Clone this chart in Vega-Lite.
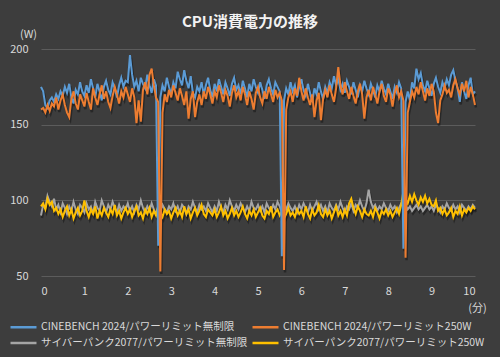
{
"$schema": "https://vega.github.io/schema/vega-lite/v6.json",
"width": 434, "height": 227,
"autosize": {"type": "none"},
"padding": {"left": 41, "top": 49, "right": 25, "bottom": 81},
"background": "#3d3d3d",
"config": {"view": {"stroke": null}, "font": "Noto Sans CJK JP"},
"title": {"text": "CPU消費電力の推移", "color": "#f2f2f2", "fontSize": 15, "fontWeight": "bold", "anchor": "middle", "dx": -8, "dy": 2, "offset": 0, "font": "Noto Sans CJK JP"},
"datasets": {
"names": [
{"k": "a", "name": "CINEBENCH 2024/パワーリミット無制限"},
{"k": "b", "name": "CINEBENCH 2024/パワーリミット250W"},
{"k": "c", "name": "サイバーパンク2077/パワーリミット無制限"},
{"k": "d", "name": "サイバーパンク2077/パワーリミット250W"}
],
"w": [
{"t":0,"a":175,"b":160,"c":90,"d":96},
{"t":0.05,"a":172,"b":161,"c":97,"d":98},
{"t":0.1,"a":163,"b":158,"c":95,"d":94},
{"t":0.15,"a":161,"b":163,"c":103,"d":101},
{"t":0.2,"a":166,"b":159,"c":99,"d":97},
{"t":0.25,"a":168,"b":164,"c":96,"d":99},
{"t":0.3,"a":165,"b":162,"c":101,"d":93},
{"t":0.35,"a":170,"b":168,"c":94,"d":95},
{"t":0.4,"a":167,"b":160,"c":97,"d":91},
{"t":0.45,"a":172,"b":166,"c":92,"d":94},
{"t":0.5,"a":169,"b":170,"c":98,"d":89},
{"t":0.55,"a":175,"b":163,"c":95,"d":93},
{"t":0.6,"a":171,"b":158,"c":91,"d":96},
{"t":0.65,"a":177,"b":155,"c":96,"d":90},
{"t":0.7,"a":168,"b":167,"c":93,"d":94},
{"t":0.75,"a":164,"b":172,"c":99,"d":88},
{"t":0.8,"a":173,"b":164,"c":94,"d":92},
{"t":0.85,"a":170,"b":160,"c":91,"d":95},
{"t":0.9,"a":178,"b":170,"c":97,"d":90},
{"t":0.95,"a":172,"b":166,"c":95,"d":93},
{"t":1.0,"a":169,"b":162,"c":92,"d":100},
{"t":1.05,"a":176,"b":171,"c":98,"d":93},
{"t":1.1,"a":171,"b":165,"c":94,"d":89},
{"t":1.15,"a":180,"b":160,"c":96,"d":94},
{"t":1.2,"a":174,"b":174,"c":91,"d":91},
{"t":1.25,"a":168,"b":168,"c":99,"d":96},
{"t":1.3,"a":177,"b":163,"c":95,"d":88},
{"t":1.35,"a":172,"b":170,"c":93,"d":93},
{"t":1.4,"a":166,"b":176,"c":100,"d":90},
{"t":1.45,"a":175,"b":167,"c":96,"d":95},
{"t":1.5,"a":179,"b":172,"c":92,"d":92},
{"t":1.55,"a":173,"b":165,"c":97,"d":89},
{"t":1.6,"a":170,"b":161,"c":94,"d":94},
{"t":1.65,"a":178,"b":169,"c":99,"d":91},
{"t":1.7,"a":174,"b":175,"c":95,"d":97},
{"t":1.75,"a":168,"b":170,"c":92,"d":90},
{"t":1.8,"a":176,"b":164,"c":97,"d":93},
{"t":1.85,"a":181,"b":172,"c":93,"d":88},
{"t":1.9,"a":175,"b":168,"c":96,"d":92},
{"t":1.95,"a":179,"b":175,"c":94,"d":95},
{"t":2.0,"a":178,"b":170,"c":98,"d":91},
{"t":2.05,"a":196,"b":165,"c":93,"d":94},
{"t":2.1,"a":183,"b":174,"c":96,"d":89},
{"t":2.15,"a":175,"b":168,"c":92,"d":93},
{"t":2.2,"a":179,"b":151,"c":97,"d":96},
{"t":2.25,"a":172,"b":166,"c":94,"d":90},
{"t":2.3,"a":181,"b":152,"c":100,"d":92},
{"t":2.35,"a":177,"b":173,"c":95,"d":88},
{"t":2.4,"a":174,"b":178,"c":92,"d":94},
{"t":2.45,"a":183,"b":170,"c":96,"d":91},
{"t":2.5,"a":176,"b":183,"c":93,"d":95},
{"t":2.55,"a":171,"b":187,"c":98,"d":89},
{"t":2.6,"a":180,"b":176,"c":94,"d":93},
{"t":2.65,"a":176,"b":168,"c":91,"d":90},
{"t":2.7,"a":70,"b":165,"c":96,"d":96},
{"t":2.75,"a":168,"b":53,"c":93,"d":92},
{"t":2.8,"a":176,"b":158,"c":97,"d":89},
{"t":2.85,"a":172,"b":170,"c":94,"d":94},
{"t":2.9,"a":181,"b":165,"c":92,"d":91},
{"t":2.95,"a":175,"b":173,"c":96,"d":93},
{"t":3.0,"a":170,"b":168,"c":94,"d":88},
{"t":3.05,"a":178,"b":176,"c":98,"d":92},
{"t":3.1,"a":174,"b":171,"c":93,"d":95},
{"t":3.15,"a":185,"b":166,"c":96,"d":90},
{"t":3.2,"a":180,"b":174,"c":92,"d":93},
{"t":3.25,"a":176,"b":169,"c":97,"d":89},
{"t":3.3,"a":186,"b":163,"c":95,"d":96},
{"t":3.35,"a":179,"b":172,"c":91,"d":91},
{"t":3.4,"a":174,"b":154,"c":96,"d":94},
{"t":3.45,"a":182,"b":167,"c":94,"d":88},
{"t":3.5,"a":171,"b":172,"c":99,"d":92},
{"t":3.55,"a":168,"b":155,"c":95,"d":95},
{"t":3.6,"a":175,"b":165,"c":92,"d":90},
{"t":3.65,"a":172,"b":170,"c":97,"d":93},
{"t":3.7,"a":178,"b":163,"c":94,"d":97},
{"t":3.75,"a":170,"b":172,"c":96,"d":91},
{"t":3.8,"a":176,"b":167,"c":93,"d":89},
{"t":3.85,"a":181,"b":175,"c":98,"d":94},
{"t":3.9,"a":173,"b":170,"c":95,"d":92},
{"t":3.95,"a":168,"b":164,"c":92,"d":90},
{"t":4.0,"a":177,"b":172,"c":96,"d":94},
{"t":4.05,"a":172,"b":168,"c":93,"d":89},
{"t":4.1,"a":180,"b":176,"c":99,"d":92},
{"t":4.15,"a":175,"b":171,"c":95,"d":96},
{"t":4.2,"a":170,"b":165,"c":92,"d":90},
{"t":4.25,"a":178,"b":173,"c":97,"d":93},
{"t":4.3,"a":174,"b":169,"c":94,"d":88},
{"t":4.35,"a":169,"b":162,"c":100,"d":91},
{"t":4.4,"a":177,"b":171,"c":96,"d":95},
{"t":4.45,"a":181,"b":176,"c":93,"d":90},
{"t":4.5,"a":173,"b":168,"c":97,"d":93},
{"t":4.55,"a":176,"b":172,"c":94,"d":89},
{"t":4.6,"a":170,"b":166,"c":98,"d":92},
{"t":4.65,"a":179,"b":175,"c":95,"d":96},
{"t":4.7,"a":174,"b":170,"c":92,"d":91},
{"t":4.75,"a":168,"b":163,"c":96,"d":88},
{"t":4.8,"a":177,"b":172,"c":93,"d":93},
{"t":4.85,"a":172,"b":167,"c":99,"d":90},
{"t":4.9,"a":180,"b":160,"c":95,"d":94},
{"t":4.95,"a":175,"b":171,"c":94,"d":89},
{"t":5.0,"a":171,"b":175,"c":97,"d":92},
{"t":5.05,"a":178,"b":168,"c":93,"d":95},
{"t":5.1,"a":173,"b":164,"c":96,"d":90},
{"t":5.15,"a":167,"b":172,"c":92,"d":88},
{"t":5.2,"a":176,"b":167,"c":98,"d":93},
{"t":5.25,"a":180,"b":175,"c":95,"d":91},
{"t":5.3,"a":174,"b":170,"c":93,"d":96},
{"t":5.35,"a":170,"b":165,"c":97,"d":89},
{"t":5.4,"a":178,"b":173,"c":94,"d":92},
{"t":5.45,"a":175,"b":168,"c":99,"d":94},
{"t":5.5,"a":172,"b":171,"c":96,"d":90},
{"t":5.55,"a":63,"b":166,"c":92,"d":93},
{"t":5.6,"a":166,"b":54,"c":97,"d":88},
{"t":5.65,"a":174,"b":160,"c":94,"d":91},
{"t":5.7,"a":170,"b":168,"c":98,"d":95},
{"t":5.75,"a":178,"b":172,"c":95,"d":90},
{"t":5.8,"a":172,"b":165,"c":93,"d":92},
{"t":5.85,"a":176,"b":174,"c":96,"d":89},
{"t":5.9,"a":168,"b":169,"c":92,"d":94},
{"t":5.95,"a":175,"b":181,"c":97,"d":91},
{"t":6.0,"a":180,"b":172,"c":94,"d":93},
{"t":6.05,"a":173,"b":166,"c":98,"d":89},
{"t":6.1,"a":169,"b":174,"c":95,"d":96},
{"t":6.15,"a":177,"b":168,"c":92,"d":91},
{"t":6.2,"a":171,"b":163,"c":97,"d":88},
{"t":6.25,"a":165,"b":170,"c":93,"d":94},
{"t":6.3,"a":174,"b":155,"c":96,"d":90},
{"t":6.35,"a":170,"b":166,"c":99,"d":92},
{"t":6.4,"a":178,"b":171,"c":94,"d":97},
{"t":6.45,"a":172,"b":153,"c":97,"d":91},
{"t":6.5,"a":167,"b":167,"c":93,"d":89},
{"t":6.55,"a":175,"b":173,"c":96,"d":94},
{"t":6.6,"a":171,"b":168,"c":92,"d":90},
{"t":6.65,"a":178,"b":176,"c":98,"d":93},
{"t":6.7,"a":174,"b":170,"c":95,"d":88},
{"t":6.75,"a":182,"b":165,"c":93,"d":92},
{"t":6.8,"a":176,"b":174,"c":97,"d":96},
{"t":6.85,"a":180,"b":188,"c":94,"d":90},
{"t":6.9,"a":173,"b":176,"c":99,"d":93},
{"t":6.95,"a":177,"b":170,"c":95,"d":89},
{"t":7.0,"a":171,"b":178,"c":92,"d":94},
{"t":7.05,"a":179,"b":172,"c":96,"d":90},
{"t":7.1,"a":175,"b":167,"c":94,"d":98},
{"t":7.15,"a":170,"b":175,"c":98,"d":101},
{"t":7.2,"a":178,"b":169,"c":93,"d":95},
{"t":7.25,"a":173,"b":164,"c":97,"d":91},
{"t":7.3,"a":168,"b":172,"c":95,"d":96},
{"t":7.35,"a":176,"b":177,"c":100,"d":93},
{"t":7.4,"a":172,"b":170,"c":96,"d":89},
{"t":7.45,"a":179,"b":154,"c":93,"d":94},
{"t":7.5,"a":174,"b":168,"c":98,"d":91},
{"t":7.55,"a":170,"b":173,"c":107,"d":90},
{"t":7.6,"a":177,"b":166,"c":99,"d":93},
{"t":7.65,"a":173,"b":175,"c":95,"d":89},
{"t":7.7,"a":168,"b":170,"c":97,"d":95},
{"t":7.75,"a":176,"b":164,"c":93,"d":92},
{"t":7.8,"a":172,"b":172,"c":96,"d":88},
{"t":7.85,"a":179,"b":177,"c":94,"d":93},
{"t":7.9,"a":174,"b":169,"c":98,"d":91},
{"t":7.95,"a":170,"b":165,"c":95,"d":94},
{"t":8.0,"a":177,"b":174,"c":93,"d":90},
{"t":8.05,"a":172,"b":170,"c":97,"d":93},
{"t":8.1,"a":167,"b":162,"c":94,"d":89},
{"t":8.15,"a":175,"b":171,"c":96,"d":92},
{"t":8.2,"a":171,"b":176,"c":92,"d":95},
{"t":8.25,"a":178,"b":168,"c":95,"d":91},
{"t":8.3,"a":174,"b":172,"c":98,"d":97},
{"t":8.35,"a":68,"b":166,"c":101,"d":106},
{"t":8.4,"a":165,"b":62,"c":97,"d":101},
{"t":8.45,"a":172,"b":158,"c":94,"d":98},
{"t":8.5,"a":166,"b":165,"c":96,"d":103},
{"t":8.55,"a":178,"b":172,"c":93,"d":99},
{"t":8.6,"a":174,"b":168,"c":95,"d":104},
{"t":8.65,"a":187,"b":175,"c":97,"d":100},
{"t":8.7,"a":180,"b":170,"c":94,"d":97},
{"t":8.75,"a":184,"b":178,"c":96,"d":102},
{"t":8.8,"a":176,"b":172,"c":93,"d":99},
{"t":8.85,"a":172,"b":166,"c":95,"d":103},
{"t":8.9,"a":179,"b":174,"c":97,"d":98},
{"t":8.95,"a":174,"b":169,"c":94,"d":101},
{"t":9.0,"a":169,"b":177,"c":96,"d":97},
{"t":9.05,"a":177,"b":172,"c":93,"d":96},
{"t":9.1,"a":181,"b":158,"c":97,"d":100},
{"t":9.15,"a":175,"b":151,"c":95,"d":93},
{"t":9.2,"a":171,"b":166,"c":92,"d":95},
{"t":9.25,"a":178,"b":170,"c":96,"d":91},
{"t":9.3,"a":174,"b":176,"c":94,"d":94},
{"t":9.35,"a":180,"b":171,"c":98,"d":90},
{"t":9.4,"a":176,"b":173,"c":95,"d":92},
{"t":9.45,"a":183,"b":168,"c":93,"d":95},
{"t":9.5,"a":186,"b":176,"c":97,"d":89},
{"t":9.55,"a":179,"b":180,"c":94,"d":93},
{"t":9.6,"a":174,"b":174,"c":96,"d":91},
{"t":9.65,"a":165,"b":170,"c":92,"d":96},
{"t":9.7,"a":178,"b":177,"c":97,"d":90},
{"t":9.75,"a":172,"b":172,"c":95,"d":94},
{"t":9.8,"a":167,"b":179,"c":93,"d":92},
{"t":9.85,"a":176,"b":168,"c":96,"d":95},
{"t":9.9,"a":181,"b":175,"c":94,"d":93},
{"t":9.95,"a":170,"b":170,"c":97,"d":96},
{"t":10.0,"a":172,"b":163,"c":95,"d":94}
]
},
"data": {"name": "w"},
"transform": [
{"fold": ["c", "d", "a", "b"], "as": ["k", "W"]},
{"lookup": "k", "from": {"data": {"name": "names"}, "key": "k", "fields": ["name"]}}
],
"encoding": {
"x": {"field": "t", "type": "quantitative", "scale": {"domain": [0, 10], "nice": false},
 "axis": {"values": [0,1,2,3,4,5,6,7,8,9,10], "grid": false, "domain": false, "ticks": false, "labelColor": "#d9d9d9", "labelFontSize": 11, "labelPadding": 9, "labelFont": "Noto Sans CJK JP",
 "title": "(分)", "titleColor": "#d9d9d9", "titleFontSize": 11, "titleFontWeight": "normal", "titleAngle": 0, "titleX": 436, "titleY": 32, "titleAlign": "center", "titleBaseline": "middle", "titleFont": "Noto Sans CJK JP"}},
"y": {"field": "W", "type": "quantitative", "scale": {"domain": [50, 200], "nice": false, "zero": false},
 "axis": {"values": [50,100,150,200], "grid": true, "gridColor": "#5c5c5c", "gridWidth": 1, "domain": false, "ticks": false, "labelColor": "#d9d9d9", "labelFontSize": 11, "labelPadding": 13, "labelFont": "Noto Sans CJK JP",
 "title": "(W)", "titleColor": "#d9d9d9", "titleFontSize": 11, "titleFontWeight": "normal", "titleAngle": 0, "titleX": -13, "titleY": -15, "titleAlign": "center", "titleBaseline": "middle", "titleFont": "Noto Sans CJK JP"}}
},
"layer": [
{"mark": {"type": "line", "color": "#000000", "opacity": 0.35, "strokeWidth": 2.5, "xOffset": 1, "yOffset": 2.5},
 "encoding": {"detail": {"field": "name", "type": "nominal"}}},
{"mark": {"type": "line", "strokeWidth": 2},
 "encoding": {"color": {"field": "name", "type": "nominal",
  "scale": {"domain": ["CINEBENCH 2024/パワーリミット無制限", "CINEBENCH 2024/パワーリミット250W", "サイバーパンク2077/パワーリミット無制限", "サイバーパンク2077/パワーリミット250W"],
   "range": ["#5B9BD5", "#ED7D31", "#A5A5A5", "#FFC000"]},
  "legend": {"orient": "none", "direction": "horizontal", "legendX": -25.5, "legendY": 270, "columns": 2, "title": null, "symbolType": "M-2,0H2", "symbolStrokeWidth": 2.5, "symbolSize": 169, "labelColor": "#d9d9d9", "labelFontSize": 10.5, "labelFont": "Noto Sans CJK JP", "labelLimit": 400, "labelOffset": 9.5, "columnPadding": 0, "rowPadding": 2}}}}
]
}
